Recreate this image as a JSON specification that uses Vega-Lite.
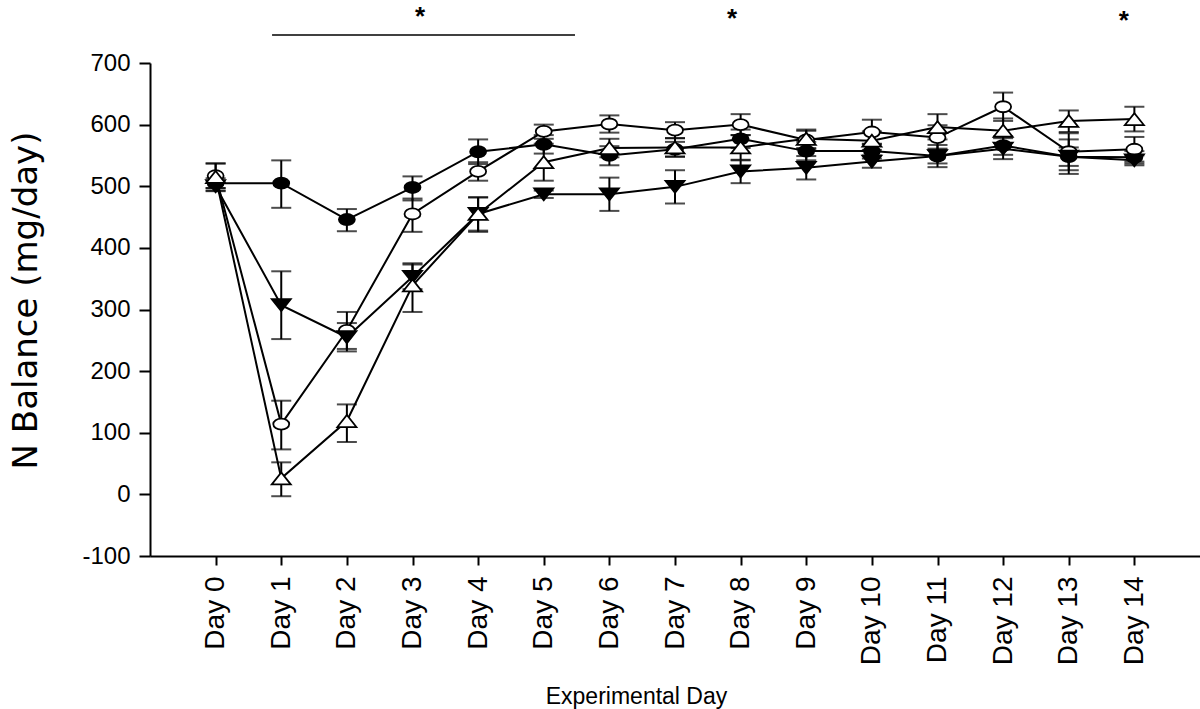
{
  "$schema": "https://vega.github.io/schema/vega-lite/v6.json",
  "width": 1050,
  "height": 493,
  "autosize": {"type": "none"},
  "padding": {"left": 150, "top": 63, "right": 0, "bottom": 153},
  "background": "white",
  "config": {
    "view": {"stroke": null},
    "axis": {"domainColor": "black", "domainWidth": 2, "tickColor": "black", "tickWidth": 2, "labelColor": "black", "titleColor": "black", "grid": false}
  },
  "datasets": {
    "series": [
      {"day": 0, "group": "G1", "mean": 505, "lo": 497, "hi": 513},
      {"day": 1, "group": "G1", "mean": 505, "lo": 465, "hi": 542},
      {"day": 2, "group": "G1", "mean": 446, "lo": 427, "hi": 463},
      {"day": 3, "group": "G1", "mean": 498, "lo": 477, "hi": 516},
      {"day": 4, "group": "G1", "mean": 556, "lo": 536, "hi": 576},
      {"day": 5, "group": "G1", "mean": 568, "lo": 553, "hi": 583},
      {"day": 6, "group": "G1", "mean": 550, "lo": 534, "hi": 565},
      {"day": 7, "group": "G1", "mean": 560, "lo": 548, "hi": 572},
      {"day": 8, "group": "G1", "mean": 577, "lo": 562, "hi": 592},
      {"day": 9, "group": "G1", "mean": 557, "lo": 542, "hi": 572},
      {"day": 10, "group": "G1", "mean": 557, "lo": 545, "hi": 569},
      {"day": 11, "group": "G1", "mean": 549, "lo": 537, "hi": 561},
      {"day": 12, "group": "G1", "mean": 566, "lo": 551, "hi": 581},
      {"day": 13, "group": "G1", "mean": 548, "lo": 533, "hi": 563},
      {"day": 14, "group": "G1", "mean": 547, "lo": 537, "hi": 557},
      {"day": 0, "group": "G2", "mean": 517, "lo": 497, "hi": 537},
      {"day": 1, "group": "G2", "mean": 114, "lo": 73, "hi": 152},
      {"day": 2, "group": "G2", "mean": 266, "lo": 236, "hi": 296},
      {"day": 3, "group": "G2", "mean": 455, "lo": 426, "hi": 480},
      {"day": 4, "group": "G2", "mean": 524, "lo": 509, "hi": 539},
      {"day": 5, "group": "G2", "mean": 589, "lo": 577, "hi": 600},
      {"day": 6, "group": "G2", "mean": 601, "lo": 587, "hi": 615},
      {"day": 7, "group": "G2", "mean": 591, "lo": 578, "hi": 604},
      {"day": 8, "group": "G2", "mean": 600, "lo": 583, "hi": 617},
      {"day": 9, "group": "G2", "mean": 575, "lo": 560, "hi": 590},
      {"day": 10, "group": "G2", "mean": 588, "lo": 568, "hi": 608},
      {"day": 11, "group": "G2", "mean": 579, "lo": 559, "hi": 599},
      {"day": 12, "group": "G2", "mean": 629, "lo": 606, "hi": 652},
      {"day": 13, "group": "G2", "mean": 556, "lo": 526, "hi": 586},
      {"day": 14, "group": "G2", "mean": 560, "lo": 540, "hi": 580},
      {"day": 0, "group": "G3", "mean": 500, "lo": 492, "hi": 508},
      {"day": 1, "group": "G3", "mean": 307, "lo": 252, "hi": 362},
      {"day": 2, "group": "G3", "mean": 255, "lo": 232, "hi": 278},
      {"day": 3, "group": "G3", "mean": 353, "lo": 333, "hi": 373},
      {"day": 4, "group": "G3", "mean": 455, "lo": 428, "hi": 482},
      {"day": 5, "group": "G3", "mean": 487, "lo": 481, "hi": 493},
      {"day": 6, "group": "G3", "mean": 487, "lo": 460, "hi": 514},
      {"day": 7, "group": "G3", "mean": 499, "lo": 472, "hi": 526},
      {"day": 8, "group": "G3", "mean": 524, "lo": 505, "hi": 542},
      {"day": 9, "group": "G3", "mean": 530, "lo": 511, "hi": 549},
      {"day": 10, "group": "G3", "mean": 540, "lo": 530, "hi": 550},
      {"day": 11, "group": "G3", "mean": 549, "lo": 531, "hi": 567},
      {"day": 12, "group": "G3", "mean": 561, "lo": 544, "hi": 578},
      {"day": 13, "group": "G3", "mean": 548, "lo": 520, "hi": 576},
      {"day": 14, "group": "G3", "mean": 542, "lo": 534, "hi": 550},
      {"day": 0, "group": "G4", "mean": 515, "lo": 493, "hi": 537},
      {"day": 1, "group": "G4", "mean": 26, "lo": -3, "hi": 52},
      {"day": 2, "group": "G4", "mean": 119, "lo": 85, "hi": 146},
      {"day": 3, "group": "G4", "mean": 339, "lo": 296, "hi": 375},
      {"day": 4, "group": "G4", "mean": 455, "lo": 426, "hi": 482},
      {"day": 5, "group": "G4", "mean": 539, "lo": 509, "hi": 569},
      {"day": 6, "group": "G4", "mean": 562, "lo": 547, "hi": 577},
      {"day": 7, "group": "G4", "mean": 563, "lo": 548, "hi": 578},
      {"day": 8, "group": "G4", "mean": 563, "lo": 543, "hi": 583},
      {"day": 9, "group": "G4", "mean": 577, "lo": 562, "hi": 592},
      {"day": 10, "group": "G4", "mean": 574, "lo": 559, "hi": 589},
      {"day": 11, "group": "G4", "mean": 596, "lo": 576, "hi": 617},
      {"day": 12, "group": "G4", "mean": 590, "lo": 570, "hi": 610},
      {"day": 13, "group": "G4", "mean": 606, "lo": 588, "hi": 623},
      {"day": 14, "group": "G4", "mean": 609, "lo": 589, "hi": 629}
    ],
    "bar": [{"x": 0.86, "x2": 5.476, "y": 745.4}],
    "stars": [
      {"x": 3.114, "y": 762, "label": "*"},
      {"x": 7.87, "y": 758, "label": "*"},
      {"x": 13.84, "y": 755, "label": "*"}
    ]
  },
  "layer": [
    {
      "data": {"name": "series"},
      "mark": {"type": "line", "color": "black", "strokeWidth": 2},
      "encoding": {
        "x": {
          "field": "day", "type": "quantitative",
          "scale": {"domain": [-1, 15], "nice": false, "zero": false},
          "axis": {
            "values": [0, 1, 2, 3, 4, 5, 6, 7, 8, 9, 10, 11, 12, 13, 14],
            "labelExpr": "'Day ' + datum.value",
            "labelAngle": -90, "labelAlign": "right", "labelBaseline": "middle",
            "labelFont": "Liberation Sans", "labelFontSize": 28, "labelPadding": 11,
            "tickSize": 9,
            "title": "Experimental Day", "titleFont": "Liberation Sans", "titleFontSize": 23,
            "titleFontWeight": "normal", "titleBaseline": "alphabetic", "titleAlign": "center",
            "titleX": 486, "titleY": 147
          }
        },
        "y": {
          "field": "mean", "type": "quantitative",
          "scale": {"domain": [-100, 700], "nice": false, "zero": false},
          "axis": {
            "values": [-100, 0, 100, 200, 300, 400, 500, 600, 700],
            "labelExpr": "datum.value + ''",
            "labelFont": "Liberation Sans", "labelFontSize": 24, "labelPadding": 9,
            "tickSize": 11,
            "title": "N Balance (mg/day)", "titleFont": "DejaVu Sans", "titleFontSize": 34,
            "titleFontWeight": "normal", "titleAngle": 270, "titleBaseline": "alphabetic",
            "titleAlign": "center", "titleX": -114, "titleY": 237
          }
        },
        "detail": {"field": "group"}
      }
    },
    {
      "data": {"name": "series"},
      "mark": {"type": "rule", "color": "black", "strokeWidth": 2},
      "encoding": {
        "x": {"field": "day", "type": "quantitative"},
        "y": {"field": "lo", "type": "quantitative"},
        "y2": {"field": "hi"}
      }
    },
    {
      "data": {"name": "series"},
      "mark": {"type": "tick", "orient": "horizontal", "color": "black", "size": 20, "thickness": 2},
      "encoding": {
        "x": {"field": "day", "type": "quantitative"},
        "y": {"field": "lo", "type": "quantitative"}
      }
    },
    {
      "data": {"name": "series"},
      "mark": {"type": "tick", "orient": "horizontal", "color": "black", "size": 20, "thickness": 2},
      "encoding": {
        "x": {"field": "day", "type": "quantitative"},
        "y": {"field": "hi", "type": "quantitative"}
      }
    },
    {
      "data": {"name": "series"},
      "mark": {"type": "point", "filled": true, "stroke": "black", "strokeWidth": 1.8, "size": 361, "opacity": 1, "fillOpacity": 1, "strokeOpacity": 1},
      "encoding": {
        "x": {"field": "day", "type": "quantitative"},
        "y": {"field": "mean", "type": "quantitative"},
        "shape": {
          "field": "group", "type": "nominal", "legend": null,
          "scale": {
            "domain": ["G1", "G2", "G3", "G4"],
            "range": [
              "M-0.84,0C-0.84,-0.32,-0.464,-0.58,0,-0.58C0.464,-0.58,0.84,-0.32,0.84,0C0.84,0.32,0.464,0.58,0,0.58C-0.464,0.58,-0.84,0.32,-0.84,0Z",
              "M-0.84,0C-0.84,-0.32,-0.464,-0.58,0,-0.58C0.464,-0.58,0.84,-0.32,0.84,0C0.84,0.32,0.464,0.58,0,0.58C-0.464,0.58,-0.84,0.32,-0.84,0Z",
              "M-1,-0.63L1,-0.63L0,0.63Z",
              "M-1,0.63L1,0.63L0,-0.63Z"
            ]
          }
        },
        "fill": {
          "field": "group", "type": "nominal", "legend": null,
          "scale": {"domain": ["G1", "G2", "G3", "G4"], "range": ["black", "white", "black", "white"]}
        }
      }
    },
    {
      "data": {"name": "bar"},
      "mark": {"type": "rule", "color": "black", "strokeWidth": 1.5},
      "encoding": {
        "x": {"field": "x", "type": "quantitative"},
        "x2": {"field": "x2"},
        "y": {"field": "y", "type": "quantitative"}
      }
    },
    {
      "data": {"name": "stars"},
      "mark": {"type": "text", "font": "Liberation Sans", "fontSize": 26, "fontWeight": "bold", "color": "black", "align": "center", "baseline": "alphabetic"},
      "encoding": {
        "x": {"field": "x", "type": "quantitative"},
        "y": {"field": "y", "type": "quantitative"},
        "text": {"field": "label"}
      }
    }
  ]
}
